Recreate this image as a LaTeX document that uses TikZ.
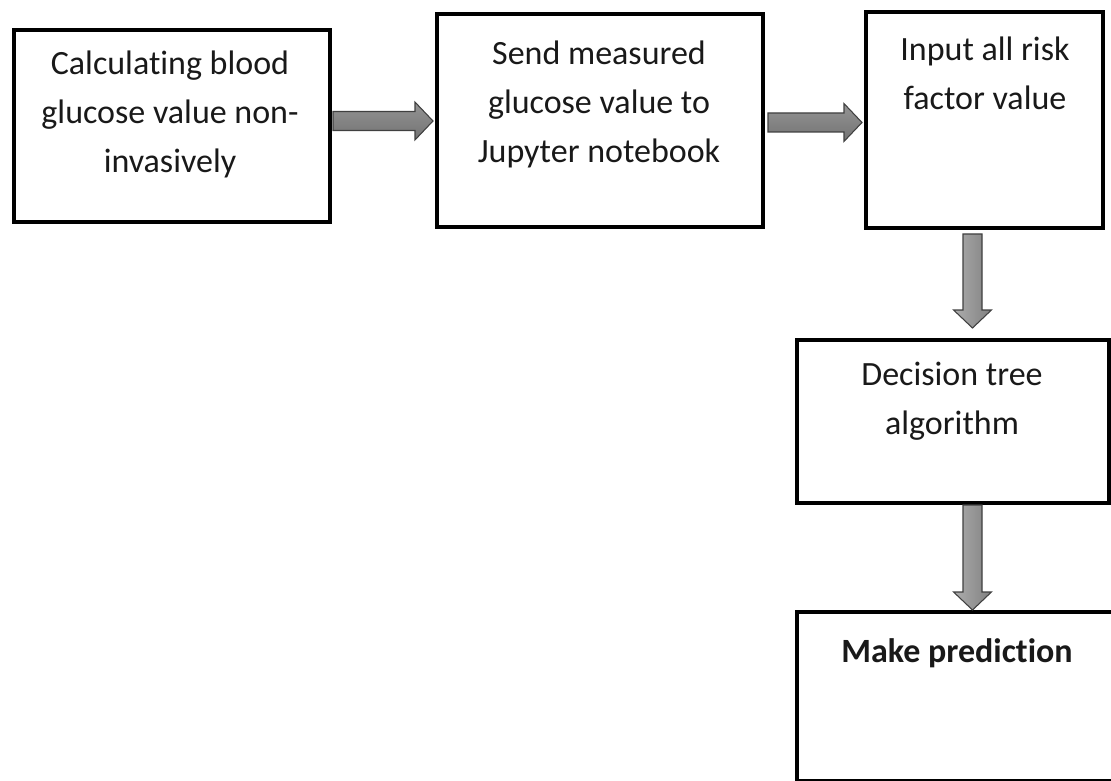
\documentclass[tikz,border=0pt]{standalone}
\usepackage{fontspec}
\setmainfont{Carlito}[Ligatures=NoCommon]
\usetikzlibrary{calc}
\begin{document}
\begin{tikzpicture}[x=0.75pt,y=-0.75pt,
  box/.style={draw=black, line width=3pt, outer sep=0pt, inner sep=0pt},
  boxtext/.style={anchor=base, align=center, inner sep=0pt,
    font=\fontsize{25.5}{36.75}\selectfont, text=black!90},
  blockarrow/.style={draw=black!75, line width=0.8pt, line join=miter,
    to path={($(\tikztostart)!7.125pt!90:(\tikztotarget)$)
      -- ($(\tikztotarget)!13.5pt!(\tikztostart)!7.125pt!-90:(\tikztostart)$)
      -- ($(\tikztotarget)!13.5pt!(\tikztostart)!14.2pt!-90:(\tikztostart)$)
      -- (\tikztotarget)
      -- ($(\tikztotarget)!13.5pt!(\tikztostart)!14.2pt!90:(\tikztostart)$)
      -- ($(\tikztotarget)!13.5pt!(\tikztostart)!7.125pt!90:(\tikztostart)$)
      -- ($(\tikztostart)!7.125pt!-90:(\tikztotarget)$) -- cycle}},
  harrow/.style={blockarrow, top color=black!42, bottom color=black!55},
  varrow/.style={blockarrow, left color=black!32, right color=black!50}]
\useasboundingbox (0,0) rectangle (1111,781);
% boxes
\node[box, minimum width=316*0.75pt, minimum height=192*0.75pt] (b1) at (172,126) {};
\node[box, minimum width=326*0.75pt, minimum height=213*0.75pt] (b2) at (600,120.5) {};
\node[box, minimum width=237*0.75pt, minimum height=216*0.75pt] (b3) at (984.5,120) {};
\node[box, minimum width=312*0.75pt, minimum height=163*0.75pt] (b4) at (953,421.5) {};
\node[box, minimum width=317*0.75pt, minimum height=169*0.75pt] (b5) at (955.5,696.5) {};
% texts (base = baseline of the last line)
\node[boxtext] (t1) at (170,173) {Calculating blood\\glucose value non-\\invasively};
\node[boxtext] (t2) at (599,163) {Send measured\\glucose value to\\Jupyter notebook};
\node[boxtext] (t3) at (985,110) {Input all risk\\factor value};
\node[boxtext] (t4) at (952,434) {Decision tree\\algorithm};
\node[boxtext] (t5) at (957,662) {\textbf{Make prediction}};
% arrow end points
\coordinate (a1s) at ($(b1.east)+(3,-5)$);
\coordinate (a1e) at ($(a1s -| b2.west)+(-4,0)$);
\coordinate (a2s) at ($(b2.east)+(5,2)$);
\coordinate (a2e) at ($(a2s -| b3.west)+(-4,0)$);
\coordinate (a3s) at ($(b3.south)+(-12,6)$);
\coordinate (a3e) at ($(a3s |- b4.north)+(0,-12)$);
\coordinate (a4s) at ($(b4.south -| a3s)+(0,2)$);
\coordinate (a4e) at ($(a4s |- b5.north)+(0,-2)$);
% arrows
\path[harrow] (a1s) to (a1e);
\path[harrow] (a2s) to (a2e);
\path[varrow] (a3s) to (a3e);
\path[varrow] (a4s) to (a4e);
\end{tikzpicture}
\end{document}
